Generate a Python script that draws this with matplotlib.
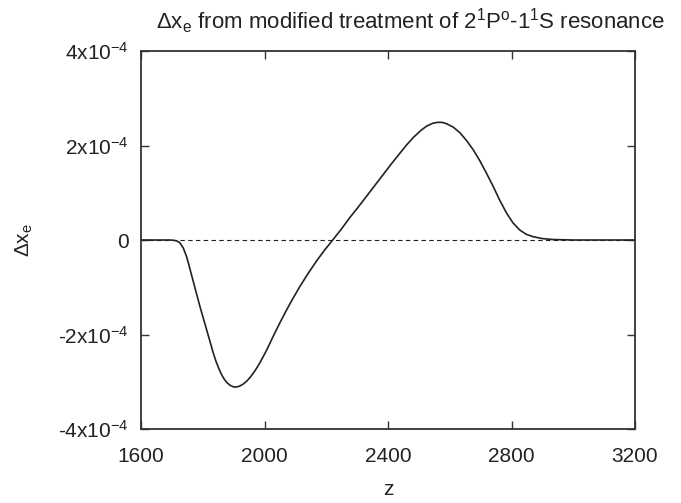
#!/usr/bin/env python3
# -*- coding: utf-8 -*-

import numpy as np
import matplotlib
matplotlib.use("Agg")
import matplotlib.pyplot as plt

# ===== data =====
z_vals = [1600, 1690, 1705, 1716, 1726, 1737, 1748, 1758, 1769, 1780,
          1791, 1802, 1813, 1824, 1834, 1843, 1852, 1861, 1870, 1880,
          1890, 1900, 1910, 1920, 1931, 1942, 1953, 1969, 1985, 2007,
          2028, 2050, 2070, 2090, 2115, 2142, 2169, 2195, 2221, 2250,
          2277, 2304, 2331, 2358, 2385, 2412, 2439, 2460, 2482, 2505,
          2525, 2545, 2560, 2575, 2590, 2611, 2633, 2655, 2677, 2698,
          2720, 2741, 2762, 2784, 2805, 2827, 2848, 2870, 2900, 2935,
          3000, 3200]
# delta x_e in units of 1e-4
dxe_1e4 = [0.0, 0.0, -0.005, -0.02, -0.06, -0.17, -0.36, -0.60, -0.87, -1.14,
           -1.41, -1.66, -1.91, -2.16, -2.39, -2.57, -2.72, -2.85, -2.95, -3.03,
           -3.08, -3.11, -3.11, -3.09, -3.05, -2.99, -2.91, -2.77, -2.60, -2.33,
           -2.04, -1.75, -1.50, -1.26, -0.98, -0.70, -0.44, -0.21, 0.0, 0.24,
           0.48, 0.70, 0.93, 1.16, 1.39, 1.62, 1.84, 2.01, 2.17, 2.31,
           2.41, 2.47, 2.49, 2.49, 2.46, 2.39, 2.27, 2.10, 1.90, 1.67,
           1.40, 1.13, 0.84, 0.57, 0.36, 0.21, 0.12, 0.07, 0.03, 0.01,
           0.0, 0.0]

x_ticks = [1600, 2000, 2400, 2800, 3200]
y_ticks = [-4e-4, -2e-4, 0, 2e-4, 4e-4]
y_tick_labels = ["-4x10$^{-4}$", "-2x10$^{-4}$", "0", "2x10$^{-4}$", "4x10$^{-4}$"]

TITLE = "\u0394x$_\\mathrm{e}$ from modified treatment of 2$^\\mathrm{1}$P$^\\mathrm{o}$-1$^\\mathrm{1}$S resonance"


def main():
    plt.rcParams["font.family"] = ["Liberation Sans", "DejaVu Sans"]
    plt.rcParams["mathtext.fontset"] = "custom"
    plt.rcParams["mathtext.rm"] = "Liberation Sans"
    plt.rcParams["mathtext.it"] = "Liberation Sans:italic"
    plt.rcParams["mathtext.bf"] = "Liberation Sans:bold"

    fig = plt.figure(figsize=(6.81, 5.03), dpi=100)
    ax = fig.add_axes([141 / 681, 1 - 429 / 503, 494 / 681, 378 / 503])

    z = np.asarray(z_vals, dtype=float)
    dxe = np.asarray(dxe_1e4) * 1e-4

    # zero reference line
    ax.axhline(0, color="#222222", linewidth=0.8, linestyle=(0, (4, 3)), zorder=1)
    ax.plot(z, dxe, color="#222222", linewidth=1.2, zorder=2)

    ax.set_xlim(1600, 3200)
    ax.set_ylim(-4e-4, 4e-4)
    ax.set_xticks(x_ticks)
    ax.set_xticklabels([str(t) for t in x_ticks])
    ax.set_yticks(y_ticks)
    ax.set_yticklabels(y_tick_labels)

    ax.tick_params(direction="in", top=True, right=True, length=6, width=1.0,
                   color="#333333", labelsize=15, labelcolor="#222222")
    ax.tick_params(axis="x", pad=13)
    ax.tick_params(axis="y", pad=9)
    for s in ax.spines.values():
        s.set_linewidth(1.3)
        s.set_color("#333333")

    ax.set_xlabel("z", fontsize=15, color="#222222")
    ax.xaxis.set_label_coords(0.5, (429 - 480) / 378)
    ax.set_ylabel("\u0394x$_\\mathrm{e}$", fontsize=15, color="#222222")
    ax.yaxis.set_label_coords((35 - 141) / 494, 0.5)

    fig.text(410 / 681, 1 - 21 / 503, TITLE, fontsize=16, color="#222222",
             ha="center", va="center")

    fig.savefig("out.png", dpi=100)
    plt.close(fig)


if __name__ == "__main__":
    main()
